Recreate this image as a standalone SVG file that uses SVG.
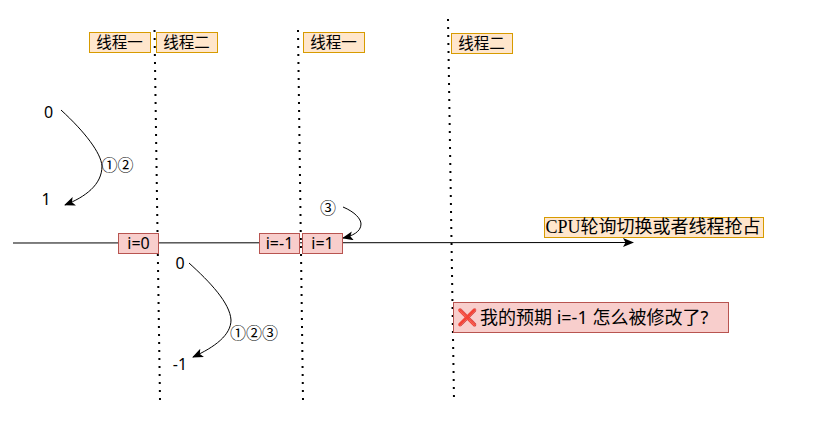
<svg xmlns="http://www.w3.org/2000/svg" width="819" height="440" viewBox="0 0 819 440">
<style>
text{font-family:"Noto Sans","Noto Sans CJK SC",sans-serif;fill:#000;text-anchor:middle}
.t{fill:#ffe6cc;stroke:#d79b00}
.r{fill:#f8cecc;stroke:#b85450}
.lb{font-size:15.500px}
.v{font-size:16px}
.dot{fill:none;stroke:#000;stroke-width:2;stroke-dasharray:2 6}
.c{fill:none;stroke:#000;stroke-width:1}
</style>
<defs>
<marker id="a" markerUnits="userSpaceOnUse" markerWidth="12" markerHeight="10" refX="10" refY="4.5" orient="auto"><path d="M0 0L11 4.500L0 9L2.500 4.500Z" fill="#000"/></marker>
</defs>
<g id="connectors">
<path class="dot" d="M154.500 30L160 400"/>
<path class="dot" d="M298 30L303 400"/>
<path class="dot" d="M448 19L454 400"/>
<path class="c" d="M13 243L633 242.500" marker-end="url(#a)"/>
<path class="c" d="M61 110C85 132 101 153 102 166C102 185 85 197 65 205" marker-end="url(#a)"/>
<path class="c" d="M189 263C210 282 230 303 231 320C231 335 215 347 193 357" marker-end="url(#a)"/>
<path class="c" d="M343 207C355 212 361 219 361 224C361 232 352 236 343 238" marker-end="url(#a)"/>
</g>
<g id="n1"><rect class="t" x="89.500" y="32.500" width="61" height="20"/><text class="lb" x="119.500" y="48">线程一</text></g>
<g id="n2"><rect class="t" x="156.500" y="32.500" width="61" height="20"/><text class="lb" x="186.500" y="48">线程二</text></g>
<g id="n3"><rect class="t" x="303.500" y="32.500" width="61" height="20"/><text class="lb" x="333.500" y="48">线程一</text></g>
<g id="n4"><rect class="t" x="451.500" y="33.500" width="61" height="20"/><text class="lb" x="481.500" y="49">线程二</text></g>
<g id="v0"><text class="v" x="48.500" y="118">0</text></g>
<g id="v1"><text class="v" x="46" y="205">1</text></g>
<g id="s12"><text class="v" x="117.500" y="171">①②</text></g>
<g id="v2"><text class="v" x="180" y="269">0</text></g>
<g id="vm1"><text class="v" x="180" y="370">-1</text></g>
<g id="s123"><text class="v" x="254" y="339">①②③</text></g>
<g id="s3"><text class="v" x="328" y="214">③</text></g>
<g id="i0"><rect class="r" x="118.500" y="233.500" width="40" height="20"/><text class="v" x="138.500" y="249">i=0</text></g>
<g id="im1"><rect class="r" x="259.500" y="233.500" width="40" height="20"/><text class="v" x="279.500" y="249">i=-1</text></g>
<g id="i1"><rect class="r" x="302.500" y="233.500" width="40" height="20"/><text class="v" x="322.500" y="249">i=1</text></g>
<g id="cpu"><rect class="t" x="544.500" y="217.500" width="219" height="20"/><text x="653" y="233" font-size="18" style="font-family:'Liberation Serif','Noto Sans CJK SC',serif">CPU轮询切换或者线程抢占</text></g>
<g id="err"><rect class="r" x="453.500" y="302.500" width="275" height="30"/><text x="457" y="323" font-size="16.500" style="text-anchor:start">❌</text><text x="480" y="323.500" font-size="18" style="text-anchor:start">我的预期 i=-1 怎么被修改了?</text></g>
</svg>
